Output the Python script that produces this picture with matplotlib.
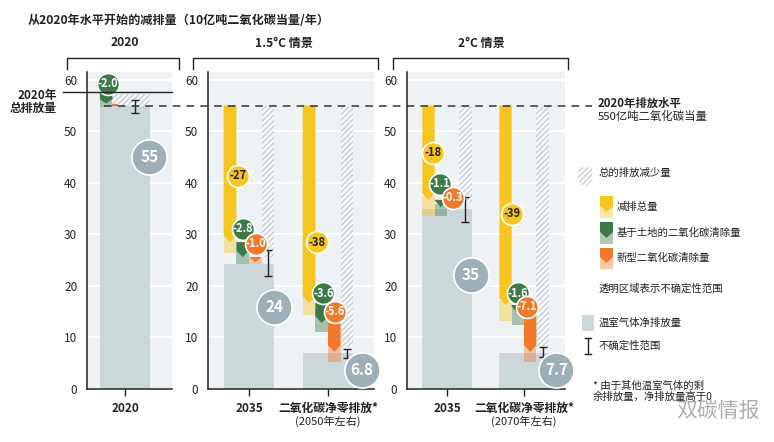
import matplotlib.pyplot as plt
import matplotlib.transforms as mtransforms
from matplotlib.patches import Polygon, Rectangle
from matplotlib.lines import Line2D

plt.rcParams['font.family'] = ['Noto Sans CJK SC', 'DejaVu Sans']
plt.rcParams['hatch.linewidth'] = 1.0

# ---- data (10亿吨二氧化碳当量/年) ----
level_2020 = 55.0
gross_2020 = 57.7
green_2020 = [57.7, 55.4]          # start, end
green_unc_2020 = [56.0, 54.7]      # hi, lo
hatch_2020 = [57.3, 55.0]
err_2020 = [53.5, 56.0]
labels_2020 = ['-2.0', '55']

cats = ['2035', '二氧化碳净零排放*']
sub_15 = ['', '(2050年左右)']
sub_2 = ['', '(2070年左右)']

# 1.5°C 情景
yel_end_15 = [28.5, 16.7]
yel_hi_15 = [30.5, 18.0]
yel_lo_15 = [26.4, 14.4]
grn_end_15 = [25.6, 12.8]
grn_hi_15 = [27.0, 15.5]
grn_lo_15 = [24.3, 11.1]
org_end_15 = [24.6, 7.2]
org_hi_15 = [25.4, 8.5]
org_lo_15 = [24.2, 5.2]
hatch_end_15 = [25.6, 8.2]
net_15 = [24.3, 7.0]
err_lo_15 = [22.0, 6.0]
err_hi_15 = [27.0, 7.8]
lab_yel_15 = ['-27', '-38']
lab_grn_15 = ['-2.8', '-3.6']
lab_org_15 = ['-1.0', '-5.6']
lab_net_15 = ['24', '6.8']

# 2°C 情景
yel_end_2 = [36.7, 16.3]
yel_hi_2 = [37.5, 17.0]
yel_lo_2 = [33.6, 13.2]
grn_end_2 = [35.3, 14.7]
grn_hi_2 = [35.8, 15.9]
grn_lo_2 = [33.6, 12.4]
org_end_2 = [34.9, 7.2]
org_hi_2 = [35.5, 8.5]
org_lo_2 = [34.9, 5.2]
hatch_end_2 = [36.0, 8.2]
net_2 = [34.9, 7.0]
err_lo_2 = [32.4, 6.2]
err_hi_2 = [37.3, 8.2]
lab_yel_2 = ['-18', '-39']
lab_grn_2 = ['-1.1', '-1.6']
lab_org_2 = ['-0.3', '-7.1']
lab_net_2 = ['35', '7.7']

# ---- style ----
YEL = '#f6c520'
GRN = '#3c7a48'
ORG = '#f07a2a'
GRAYBAR = '#ccd7da'
GRAYCIRC = '#9eafb8'
BG = '#eef2f4'
HATCH = '#c6d0d8'
DARK = '#222222'

W, H = 774, 442
fig = plt.figure(figsize=(W / 100, H / 100), dpi=100)


def fx(x):
    return x / W


def fy(y):
    return 1 - y / H


def make_panel(l, r, xlim):
    ax = fig.add_axes([fx(l), fy(389), fx(r) - fx(l), (389 - 72) / H])
    ax.set_facecolor(BG)
    ax.set_xlim(*xlim)
    ax.set_ylim(0, 61.5)
    ax.set_yticks(range(0, 61, 10))
    ax.grid(axis='y', color='white', lw=1.3)
    ax.set_axisbelow(True)
    for s in ['top', 'right']:
        ax.spines[s].set_visible(False)
    for s in ['left', 'bottom']:
        ax.spines[s].set_color(DARK)
        ax.spines[s].set_linewidth(1.1)
    ax.tick_params(axis='y', length=0, labelsize=8.5, pad=7, colors=DARK)
    ax.tick_params(axis='x', length=5, width=1, labelsize=8.5, pad=4, colors=DARK)
    return ax


def chevron(ax, xc, w, top, end, color, depth=1.3, z=3):
    x0, x1 = xc - w / 2, xc + w / 2
    sh = min(top, end + depth)
    pts = [(x0, top), (x1, top), (x1, sh), (xc, end), (x0, sh)]
    ax.add_patch(Polygon(pts, closed=True, fc=color, ec='none', zorder=z))


def pale(ax, xc, w, hi, lo, color):
    ax.add_patch(Rectangle((xc - w / 2, lo), w, hi - lo, fc=color, ec='none',
                           alpha=0.4, zorder=2.5))


def hatched(ax, x0, x1, top, bottom):
    ax.add_patch(Rectangle((x0, bottom), x1 - x0, top - bottom, fc='#f6f8f9',
                           ec=HATCH, lw=0, hatch='//////', zorder=2))


def bubble(ax, x, y, txt, color, big=False, tcolor='white'):
    s = 640 if big else 250
    ax.scatter([x], [y], s=s, color=color, edgecolor='white', linewidth=1.2,
               zorder=6, clip_on=False)
    ax.text(x, y, txt, ha='center', va='center', color=tcolor,
            fontsize=11 if big else 8, fontweight='bold', zorder=7,
            clip_on=False)


def errbar(ax, x, lo, hi):
    ax.errorbar([x], [(lo + hi) / 2], yerr=[[(hi - lo) / 2], [(hi - lo) / 2]],
                fmt='none', ecolor=DARK, elinewidth=1, capsize=3, capthick=1,
                zorder=5)


sw = 0.16
offs = [-0.24, -0.08, 0.08, 0.24]


def draw_scenario(ax, yel_end, yel_hi, yel_lo, grn_end, grn_hi, grn_lo,
                  org_end, org_hi, org_lo, hatch_end, net, err_lo, err_hi,
                  lab_yel, lab_grn, lab_org, lab_net, lab_pos):
    for i in range(len(net)):
        ax.bar(i, net[i], width=0.64, color=GRAYBAR, zorder=1)
        hatched(ax, i + offs[3] - sw / 2, i + offs[3] + sw / 2, level_2020, hatch_end[i])
        pale(ax, i + offs[0], sw, yel_hi[i], yel_lo[i], YEL)
        pale(ax, i + offs[1], sw, grn_hi[i], grn_lo[i], GRN)
        pale(ax, i + offs[2], sw, org_hi[i], org_lo[i], ORG)
        chevron(ax, i + offs[0], sw, level_2020, yel_end[i], YEL)
        chevron(ax, i + offs[1], sw, yel_end[i], grn_end[i], GRN)
        chevron(ax, i + offs[2], sw, grn_end[i], org_end[i], ORG)
        errbar(ax, i + offs[3], err_lo[i], err_hi[i])
        p = lab_pos[i]
        bubble(ax, i + p[0][0], p[0][1], lab_yel[i], YEL, tcolor=DARK)
        bubble(ax, i + p[1][0], p[1][1], lab_grn[i], GRN)
        bubble(ax, i + p[2][0], p[2][1], lab_org[i], ORG)
        bubble(ax, i + p[3][0], p[3][1], lab_net[i], GRAYCIRC, big=True)


# ---- panel 2020 ----
ax1 = make_panel(87, 172, (-0.484, 0.599))
ax1.bar(0, level_2020, width=0.64, color=GRAYBAR, zorder=1)
hatched(ax1, -0.16, 0.32, hatch_2020[0], hatch_2020[1])
pale(ax1, offs[0], sw, green_unc_2020[0], green_unc_2020[1], GRN)
chevron(ax1, offs[0], sw, green_2020[0], green_2020[1], GRN, depth=0.8)
ax1.add_patch(Rectangle((-0.16, 54.9), 0.07, 0.4, fc=ORG, ec='none', zorder=3))
errbar(ax1, 0.13, err_2020[0], err_2020[1])
bubble(ax1, -0.22, 59.2, labels_2020[0], GRN)
bubble(ax1, 0.31, 45.0, labels_2020[1], GRAYCIRC, big=True)
ax1.set_xticks([0])
ax1.set_xticklabels(['2020'], fontweight='bold')

# ---- panel 1.5°C ----
ax2 = make_panel(208, 374, (-0.519, 1.582))
pos15 = [[(-0.14, 41.4), (-0.08, 31.1), (0.09, 28.2), (0.32, 16.0)],
         [(-0.14, 28.5), (-0.06, 18.6), (0.09, 15.0), (0.43, 3.7)]]
draw_scenario(ax2, yel_end_15, yel_hi_15, yel_lo_15, grn_end_15, grn_hi_15,
              grn_lo_15, org_end_15, org_hi_15, org_lo_15, hatch_end_15,
              net_15, err_lo_15, err_hi_15, lab_yel_15, lab_grn_15,
              lab_org_15, lab_net_15, pos15)

# ---- panel 2°C ----
ax3 = make_panel(407, 565, (-0.519, 1.532))
pos2 = [[(-0.18, 45.8), (-0.09, 39.8), (0.08, 37.1), (0.31, 22.1)],
        [(-0.16, 34.0), (-0.08, 18.6), (0.04, 16.0), (0.42, 3.7)]]
draw_scenario(ax3, yel_end_2, yel_hi_2, yel_lo_2, grn_end_2, grn_hi_2,
              grn_lo_2, org_end_2, org_hi_2, org_lo_2, hatch_end_2,
              net_2, err_lo_2, err_hi_2, lab_yel_2, lab_grn_2,
              lab_org_2, lab_net_2, pos2)

for ax, subs in [(ax2, sub_15), (ax3, sub_2)]:
    ax.set_xticks(range(len(cats)))
    ax.set_xticklabels(cats, fontweight='bold')
    tr = mtransforms.blended_transform_factory(ax.transData, fig.transFigure)
    for i, s in enumerate(subs):
        if s:
            ax.text(i, fy(421), s, transform=tr, ha='center', va='center',
                    fontsize=8, color=DARK)

# ---- header / brackets ----
fig.text(fx(28), fy(20), '从2020年水平开始的减排量（10亿吨二氧化碳当量/年）',
         fontsize=8.7, fontweight='bold', va='center', color=DARK)
for (l, r, title, xt) in [(67, 179, '2020', 125), (193, 378, '1.5°C 情景', 284),
                          (393, 568, '2°C 情景', 481)]:
    fig.add_artist(Line2D([fx(l), fx(l), fx(r), fx(r)],
                          [fy(69), fy(58), fy(58), fy(69)],
                          transform=fig.transFigure, color=DARK, lw=1))
    fig.text(fx(xt), fy(43), title, ha='center', va='center', fontsize=8.7,
             fontweight='bold', color=DARK)

# 2020 level lines
btr = mtransforms.blended_transform_factory(fig.transFigure, ax1.transData)
fig.add_artist(Line2D([fx(104), fx(592)], [level_2020, level_2020], transform=btr,
                      color='#333333', lw=1.1, dashes=(5, 4), zorder=10))
fig.add_artist(Line2D([fx(63), fx(172)], [gross_2020, gross_2020], transform=btr,
                      color=DARK, lw=1, zorder=10))
fig.text(fx(57), fy(102), '2020年\n总排放量', ha='right', va='center',
         fontsize=8.5, fontweight='bold', color=DARK, linespacing=1.05)
fig.text(fx(598), fy(103), '2020年排放水平', ha='left', va='center',
         fontsize=8.2, fontweight='bold', color=DARK)
fig.text(fx(598), fy(116), '550亿吨二氧化碳当量', ha='left', va='center',
         fontsize=8.2, color=DARK)

# ---- legend ----
def fig_chevron(x0, x1, y0, ytip, color, pale_bottom=None, hatch=False):
    xc = (x0 + x1) / 2
    pts = [(fx(x0), fy(y0)), (fx(x1), fy(y0)), (fx(x1), fy(ytip - 6)),
           (fx(xc), fy(ytip)), (fx(x0), fy(ytip - 6))]
    if pale_bottom is not None:
        fig.add_artist(Rectangle((fx(x0), fy(pale_bottom)), fx(x1) - fx(x0),
                                 fy(ytip - 8) - fy(pale_bottom),
                                 transform=fig.transFigure, fc=color, ec='none',
                                 alpha=0.4))
    if hatch:
        fig.add_artist(Polygon(pts, closed=True, transform=fig.transFigure,
                               fc='white', ec=HATCH, lw=0, hatch='//////'))
    else:
        fig.add_artist(Polygon(pts, closed=True, transform=fig.transFigure,
                               fc=color, ec='none'))


lfs = 7.5
fig_chevron(578, 592, 167, 187, HATCH, hatch=True)
fig.text(fx(599), fy(173), '总的排放减少量', fontsize=lfs, va='center', color=DARK)
fig_chevron(600, 613, 196, 212, YEL, pale_bottom=218)
fig.text(fx(617), fy(207), '减排总量', fontsize=lfs, va='center', color=DARK)
fig_chevron(600, 613, 222, 238, GRN, pale_bottom=244)
fig.text(fx(617), fy(233), '基于土地的二氧化碳清除量', fontsize=lfs, va='center', color=DARK)
fig_chevron(600, 613, 248, 263, ORG, pale_bottom=269)
fig.text(fx(617), fy(258), '新型二氧化碳清除量', fontsize=lfs, va='center', color=DARK)
fig.text(fx(599), fy(289), '透明区域表示不确定性范围', fontsize=lfs, va='center', color=DARK)
fig.add_artist(Rectangle((fx(582), fy(331)), fx(594) - fx(582), fy(315) - fy(331),
                         transform=fig.transFigure, fc=GRAYBAR, ec='none'))
fig.text(fx(599), fy(323), '温室气体净排放量', fontsize=lfs, va='center', color=DARK)
fig.add_artist(Line2D([fx(588), fx(588)], [fy(338), fy(354)], transform=fig.transFigure,
                      color=DARK, lw=1))
for yy in (338, 354):
    fig.add_artist(Line2D([fx(585), fx(591)], [fy(yy), fy(yy)], transform=fig.transFigure,
                          color=DARK, lw=1))
fig.text(fx(599), fy(346), '不确定性范围', fontsize=lfs, va='center', color=DARK)
fig.text(fx(593), fy(391), '* 由于其他温室气体的剩\n余排放量，净排放量高于0', fontsize=lfs,
         va='center', color=DARK, linespacing=1.1)
fig.text(fx(676), fy(411), '双碳情报', fontsize=15, va='center', color='#9a9a9a', alpha=0.8)

fig.savefig('out.png', dpi=100)
